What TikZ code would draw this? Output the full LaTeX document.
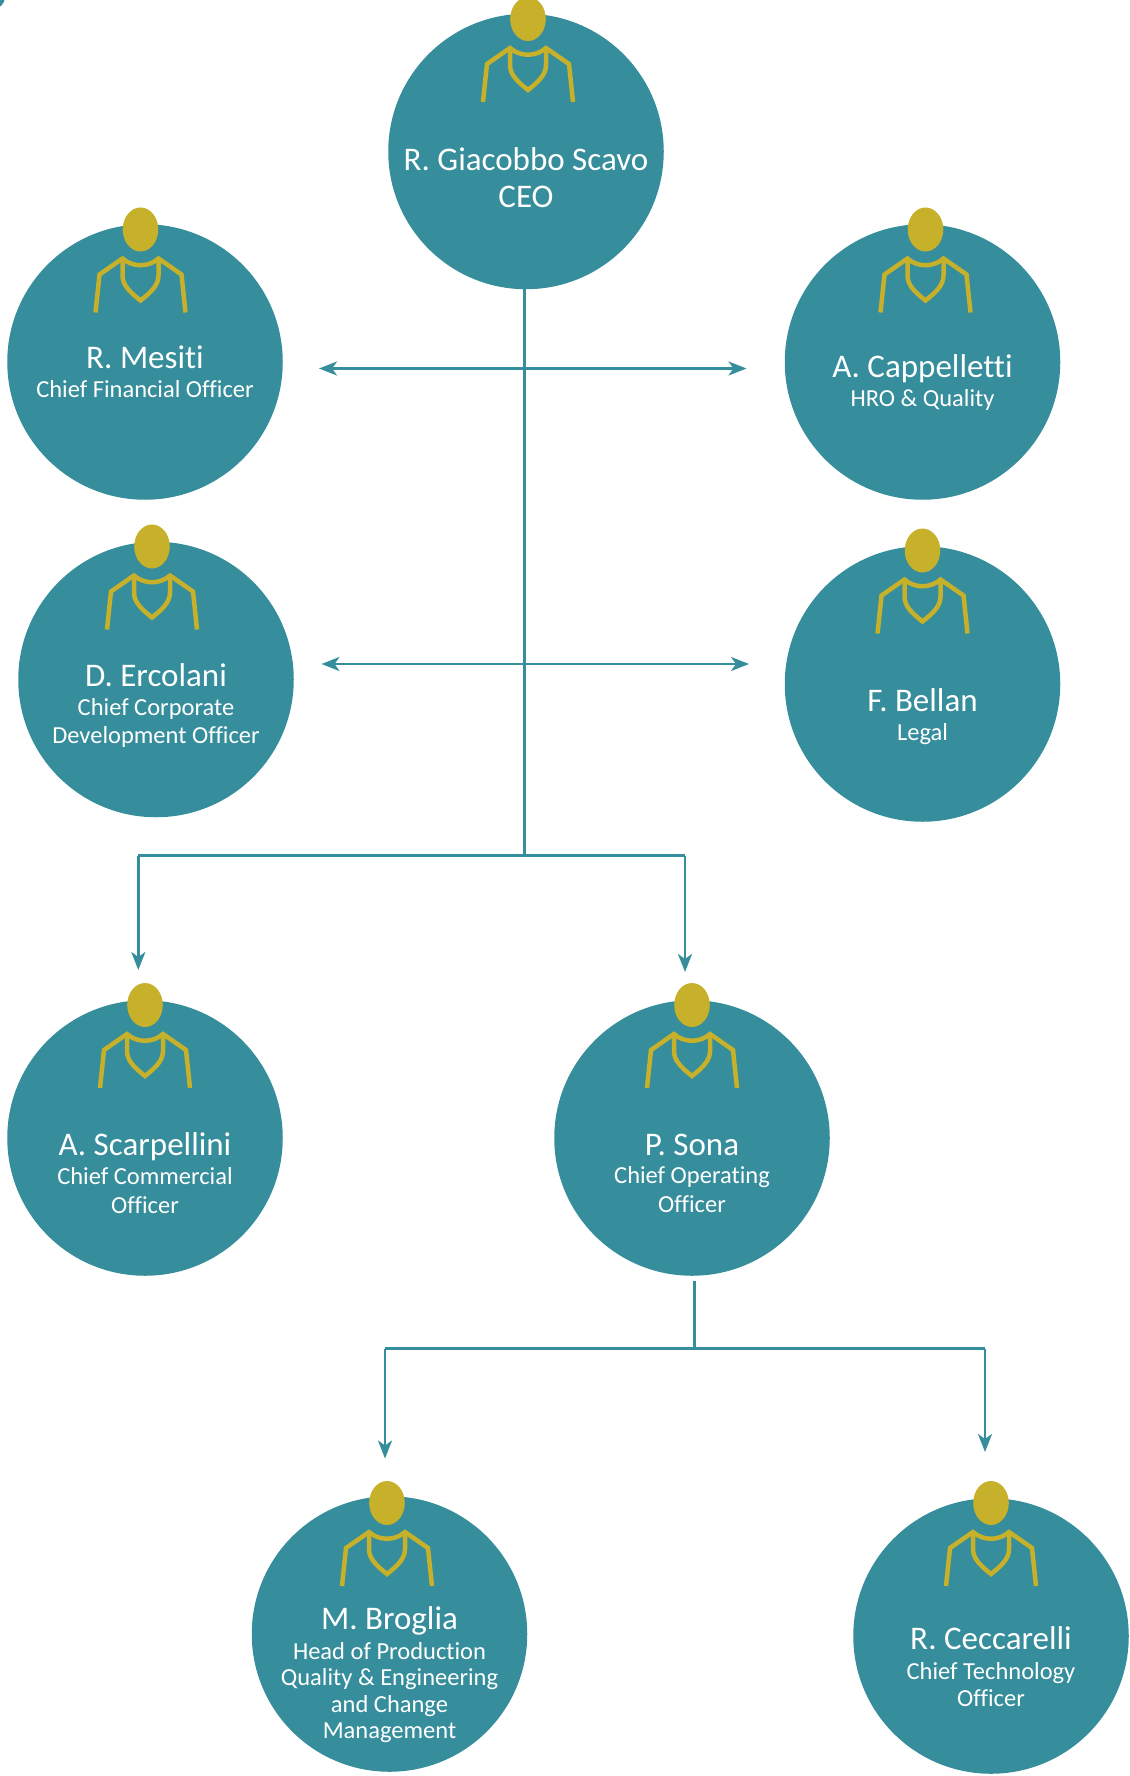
\documentclass[tikz,border=0pt]{standalone}
\usepackage{fontspec}
\setmainfont{Carlito}[Ligatures={NoCommon,NoContextual}]
\usetikzlibrary{positioning,arrows.meta}
\definecolor{teal1}{RGB}{54,141,155}
\definecolor{gold1}{RGB}{199,176,42}
\tikzset{
  member/.style={circle,fill=teal1,minimum size=275.5pt,inner sep=0pt},
  whotext/.style={text=white,anchor=base,inner sep=0pt,font=\fontsize{33}{37}\selectfont},
  roletext/.style={text=white,anchor=base,inner sep=0pt,align=center,font=\fontsize{24.5}{26.5}\selectfont},
  link/.style={teal1,line width=2.6pt},
  tip/.style={link,-{Stealth[length=18pt,width=14pt,inset=5pt]}},
  both/.style={link,{Stealth[length=18pt,width=14pt,inset=5pt]}-{Stealth[length=18pt,width=14pt,inset=5pt]}},
  person/.pic={
    \fill[gold1] (0,0) ellipse [x radius=17.8,y radius=22];
    \draw[gold1,line width=4.5pt] (-45,83) -- (-41,45) -- (-18,29)
      .. controls (-8,38) and (8,38) .. (18,29) -- (41,45) -- (45,83);
    \draw[gold1,line width=4.5pt] (-18,29) -- (-18,46)
      .. controls (-18,56) and (-10,63) .. (0,71)
      .. controls (10,63) and (18,56) .. (18,46) -- (18,29);
  }
}
\begin{document}
\begin{tikzpicture}[x=1pt,y=-1pt]
  \useasboundingbox (0,0) rectangle (1129,1776);
  \fill[teal1] (-7,-3) circle (12);
  \foreach \n/\x/\y/\hx/\hy/\ty/\ry/\who/\role in {
    ceo/526/151.5/528/19/170.5/208/{R. Giacobbo Scavo}/{\fontsize{33}{37}\selectfont CEO},
    mesiti/145/362/140.5/229.5/368.5/397/{R. Mesiti}/{Chief Financial Officer},
    cappelletti/922.5/362/925.5/229.5/377.5/406/{A. Cappelletti}/{HRO \& Quality},
    ercolani/156/679.5/152/546.5/686.5/743.5/{D. Ercolani}/{Chief Corporate\\[1.5pt]Development Officer},
    bellan/922.5/684/922.5/550.5/711.5/740/{F. Bellan}/{Legal},
    scarpellini/145/1138/145/1005/1155.5/1213/{A. Scarpellini}/{Chief Commercial\\[2.5pt]Officer},
    sona/692/1138/692/1005/1155.5/1212/{P. Sona}/{Chief Operating\\[2pt]Officer},
    broglia/389.5/1634/387/1503/1629.5/1738.5/{M. Broglia}/{Head of Production\\Quality \& Engineering\\and Change\\Management},
    ceccarelli/991/1636/991/1503/1649/1706/{R. Ceccarelli}/{Chief Technology\\Officer}}
  {
    \node[member] (\n) at (\x,\y) {};
    \pic at (\hx,\hy) {person};
    \node[whotext] (\n who) at (\x,\ty) {\who};
    \node[roletext] (\n role) at (\x,\ry) {\role};
  }
  % free ends of the links
  \coordinate (trunktop) at (524.5,289);
  \coordinate (trunkend) at (524.5,855.5);
  \coordinate (leftend) at (138.3,855.5);
  \coordinate (rightend) at (685,855.5);
  \coordinate (scarpellinitip) at (138.3,970);
  \coordinate (sonatip) at (685,972);
  \coordinate (stemtop) at (694.7,1281);
  \coordinate (stemend) at (694.7,1348.5);
  \coordinate (brogliaend) at (385,1348.5);
  \coordinate (ceccarelliend) at (985,1348.5);
  \coordinate (brogliatip) at (385,1458.5);
  \coordinate (ceccarellitip) at (985,1452);
  \coordinate (upperleft) at (319,368.5);
  \coordinate (upperright) at (746.5,368.5);
  \coordinate (lowerleft) at (321.5,664);
  \coordinate (lowerright) at (749,664);
  \draw[link] (trunktop) -- (trunkend);
  \draw[both] (upperleft) -- (upperright);
  \draw[both] (lowerleft) -- (lowerright);
  \draw[link] (leftend) -- (rightend);
  \draw[tip] (leftend) -- (scarpellinitip);
  \draw[tip] (rightend) -- (sonatip);
  \draw[link] (stemtop) -- (stemend);
  \draw[link] (brogliaend) -- (ceccarelliend);
  \draw[tip] (brogliaend) -- (brogliatip);
  \draw[tip] (ceccarelliend) -- (ceccarellitip);
\end{tikzpicture}
\end{document}
